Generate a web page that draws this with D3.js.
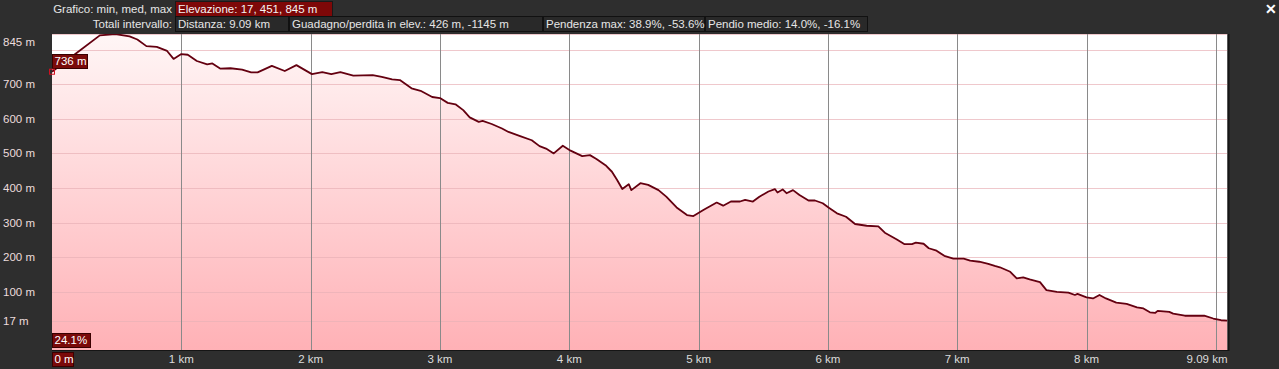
<!DOCTYPE html>
<html>
<head>
<meta charset="utf-8">
<script src="https://cdn.jsdelivr.net/npm/d3@7"></script>
<style>
  html, body { margin: 0; padding: 0; background: #2e2e2e; }
  svg { display: block; font-family: "Liberation Sans", Arial, sans-serif; }
</style>
</head>
<body>
<div id="chart"></div>
<script>
// Elevation profile (distance km, elevation m)
var distances = [0.00, 0.19, 0.37, 0.49, 0.60, 0.66, 0.73, 0.81, 0.89, 0.94, 1.00, 1.05, 1.12, 1.20, 1.24,
  1.30, 1.38, 1.47, 1.54, 1.59, 1.70, 1.80, 1.89, 2.01, 2.09, 2.16, 2.23, 2.33, 2.48, 2.55, 2.63, 2.69,
  2.78, 2.85, 2.94, 3.00, 3.06, 3.12, 3.18, 3.23, 3.30, 3.33, 3.40, 3.48, 3.53, 3.62, 3.71, 3.77, 3.82,
  3.88, 3.95, 4.01, 4.10, 4.16, 4.21, 4.28, 4.33, 4.37, 4.41, 4.46, 4.48, 4.55, 4.61, 4.69, 4.75, 4.83,
  4.91, 4.96, 5.04, 5.14, 5.19, 5.25, 5.32, 5.36, 5.42, 5.47, 5.54, 5.59, 5.61, 5.65, 5.68, 5.73, 5.78,
  5.85, 5.90, 5.96, 6.01, 6.07, 6.14, 6.21, 6.30, 6.39, 6.44, 6.53, 6.59, 6.65, 6.68, 6.74, 6.78, 6.84,
  6.90, 6.97, 7.05, 7.10, 7.17, 7.24, 7.29, 7.33, 7.41, 7.46, 7.51, 7.56, 7.64, 7.69, 7.77, 7.86, 7.91,
  7.93, 8.00, 8.05, 8.10, 8.15, 8.23, 8.31, 8.39, 8.44, 8.49, 8.53, 8.55, 8.64, 8.67, 8.76, 8.91, 8.98,
  9.04, 9.09];
var elevations = [736, 790, 841, 845, 838, 829, 810, 808, 796, 773, 787, 785, 767, 757, 760,
  745, 746, 742, 734, 734, 753, 738, 755, 729, 735, 729, 735, 725, 726, 721, 714, 712,
  688, 681, 663, 660, 646, 642, 625, 604, 591, 594, 585, 572, 562, 550, 538, 521, 514,
  500, 522, 508, 492, 495, 484, 466, 447, 423, 397, 411, 394, 414, 409, 394, 375, 344,
  322, 319, 337, 358, 349, 361, 361, 366, 361, 375, 390, 397, 387, 396, 385, 394, 380,
  364, 364, 356, 342, 327, 317, 296, 291, 289, 271, 252, 238, 238, 242, 239, 226, 219,
  204, 196, 196, 190, 187, 181, 175, 171, 158, 139, 142, 136, 128, 105, 100, 98, 91,
  94, 84, 81, 91, 81, 69, 65, 55, 52, 41, 39, 45, 42, 37, 31, 31, 23,
  18, 17];

var yTicks = [845, 700, 600, 500, 400, 300, 200, 100, 17];
var yGrid = [845, 800, 700, 600, 500, 400, 300, 200, 100, 17];
var xTicks = [1, 2, 3, 4, 5, 6, 7, 8, 9];
var xTickLabels = ["1 km", "2 km", "3 km", "4 km", "5 km", "6 km", "7 km", "8 km", "9.09 km"];

var headerRow1 = [{label: "Elevazione: 17, 451, 845 m", x: 175, w: 157}];
var headerRow2 = [
  {label: "Distanza: 9.09 km", x: 175, w: 113},
  {label: "Guadagno/perdita in elev.: 426 m, -1145 m", x: 289, w: 253},
  {label: "Pendenza max: 38.9%, -53.6%", x: 543, w: 161},
  {label: "Pendio medio: 14.0%, -16.1%", x: 705, w: 162}
];

(function(){
  var W = 1279, H = 369;
  var pL = 52, pR = 1227.5, pT = 34, pB = 350;
  var fs = 11.5;

  var svg = d3.select("#chart").append("svg").attr("width", W).attr("height", H);
  svg.append("rect").attr("width", W).attr("height", H).attr("fill", "#2e2e2e");

  var x = d3.scaleLinear().domain([0, 9.09]).range([pL, pR]);
  var y = d3.scaleLinear().domain([-68, 845]).range([pB, pT]);

  var data = distances.map(function(d, i){ return {d: d, e: elevations[i]}; });

  // Gradient for area
  var defs = svg.append("defs");
  var grad = defs.append("linearGradient").attr("id", "fillGrad")
    .attr("gradientUnits", "userSpaceOnUse")
    .attr("x1", 0).attr("x2", 0).attr("y1", pT).attr("y2", pB);
  grad.append("stop").attr("offset", "0%").attr("stop-color", "#fff6f6");
  grad.append("stop").attr("offset", "100%").attr("stop-color", "#ffb1b6");
  defs.append("clipPath").attr("id", "plotClip").append("rect")
    .attr("x", pL).attr("y", pT).attr("width", pR - pL).attr("height", pB - pT);

  // Plot background
  svg.append("rect").attr("x", pL).attr("y", pT).attr("width", pR - pL).attr("height", pB - pT)
    .attr("fill", "#ffffff");

  var plot = svg.append("g").attr("clip-path", "url(#plotClip)");

  var area = d3.area().x(function(d){ return x(d.d); }).y0(pB).y1(function(d){ return y(d.e); });
  plot.append("path").datum(data).attr("d", area).attr("fill", "url(#fillGrad)");

  // Grid
  plot.selectAll(".hgrid").data(yGrid).enter().append("line")
    .attr("x1", pL).attr("x2", pR)
    .attr("y1", function(d){ return Math.round(y(d)) + 0.5; })
    .attr("y2", function(d){ return Math.round(y(d)) + 0.5; })
    .attr("stroke", "#e8b0b6").attr("stroke-opacity", 0.7).attr("stroke-width", 1);
  plot.selectAll(".vgrid").data(xTicks).enter().append("line")
    .attr("y1", pT).attr("y2", pB)
    .attr("x1", function(d){ return Math.round(x(d)) + 0.5; })
    .attr("x2", function(d){ return Math.round(x(d)) + 0.5; })
    .attr("stroke", "#8a8a8a").attr("stroke-width", 1);

  var line = d3.line().x(function(d){ return x(d.d); }).y(function(d){ return y(d.e); });
  plot.append("path").datum(data).attr("d", line)
    .attr("fill", "none").attr("stroke", "#640010").attr("stroke-width", 1.8)
    .attr("stroke-linejoin", "round");

  // Plot frame
  svg.append("line").attr("x1", pR + 1).attr("x2", pR + 1).attr("y1", pT).attr("y2", pB)
    .attr("stroke", "#151515").attr("stroke-width", 2);
  svg.append("line").attr("x1", pL).attr("x2", pR + 2).attr("y1", pB + 0.5).attr("y2", pB + 0.5)
    .attr("stroke", "#151515").attr("stroke-width", 1);

  // Y labels
  svg.selectAll(".ylab").data(yTicks).enter().append("text")
    .attr("x", 3)
    .attr("y", function(d){ return Math.max(y(d), 42) + 4; })
    .attr("fill", "#ecdcdc").attr("font-size", fs)
    .text(function(d){ return d + " m"; });

  // X labels
  svg.selectAll(".xlab").data(xTicks).enter().append("text")
    .attr("x", function(d, i){ return i === xTicks.length - 1 ? pR : x(d); })
    .attr("y", 363)
    .attr("text-anchor", function(d, i){ return i === xTicks.length - 1 ? "end" : "middle"; })
    .attr("fill", "#dcdcdc").attr("font-size", fs)
    .text(function(d, i){ return xTickLabels[i]; });

  // Red tag boxes
  function tag(tx, ty, w, h, label) {
    svg.append("rect").attr("x", tx).attr("y", ty).attr("width", w).attr("height", h)
      .attr("fill", "#7a0a0a").attr("stroke", "#3a0000").attr("stroke-width", 1);
    svg.append("text").attr("x", tx + 2).attr("y", ty + h - 3.5)
      .attr("fill", "#ffffff").attr("font-size", fs).text(label);
  }
  tag(52.5, 54.5, 35, 14, elevations[0] + " m");
  tag(52.5, 333.5, 38, 14, "24.1%");
  tag(52.5, 352.5, 21, 14, "0 m");

  // Start marker
  svg.append("rect").attr("x", x(0) - 2.5).attr("y", y(elevations[0]) - 2.5).attr("width", 5).attr("height", 5)
    .attr("fill", "none").attr("stroke", "#d01020").attr("stroke-width", 1);

  // Header
  svg.append("text").attr("x", 172).attr("y", 13).attr("text-anchor", "end")
    .attr("fill", "#e6e6e6").attr("font-size", fs).text("Grafico: min, med, max");
  svg.append("text").attr("x", 172).attr("y", 28).attr("text-anchor", "end")
    .attr("fill", "#e6e6e6").attr("font-size", fs).text("Totali intervallo:");

  headerRow1.forEach(function(b){
    svg.append("rect").attr("x", b.x + 0.5).attr("y", 1.5).attr("width", b.w).attr("height", 15)
      .attr("fill", "#7e0808").attr("stroke", "#1a1a1a");
    svg.append("text").attr("x", b.x + 3).attr("y", 13).attr("fill", "#f4f4f4").attr("font-size", fs).text(b.label);
  });
  headerRow2.forEach(function(b){
    svg.append("rect").attr("x", b.x + 0.5).attr("y", 16.5).attr("width", b.w).attr("height", 15)
      .attr("fill", "#292929").attr("stroke", "#111111");
    svg.append("text").attr("x", b.x + 3).attr("y", 28).attr("fill", "#e6e6e6").attr("font-size", fs).text(b.label);
  });

  // Close button
  svg.append("text").attr("x", 1271).attr("y", 14).attr("text-anchor", "middle")
    .attr("fill", "#ffffff").attr("font-size", 14).attr("font-weight", "bold").text("✕");
})();
</script>
</body>
</html>
